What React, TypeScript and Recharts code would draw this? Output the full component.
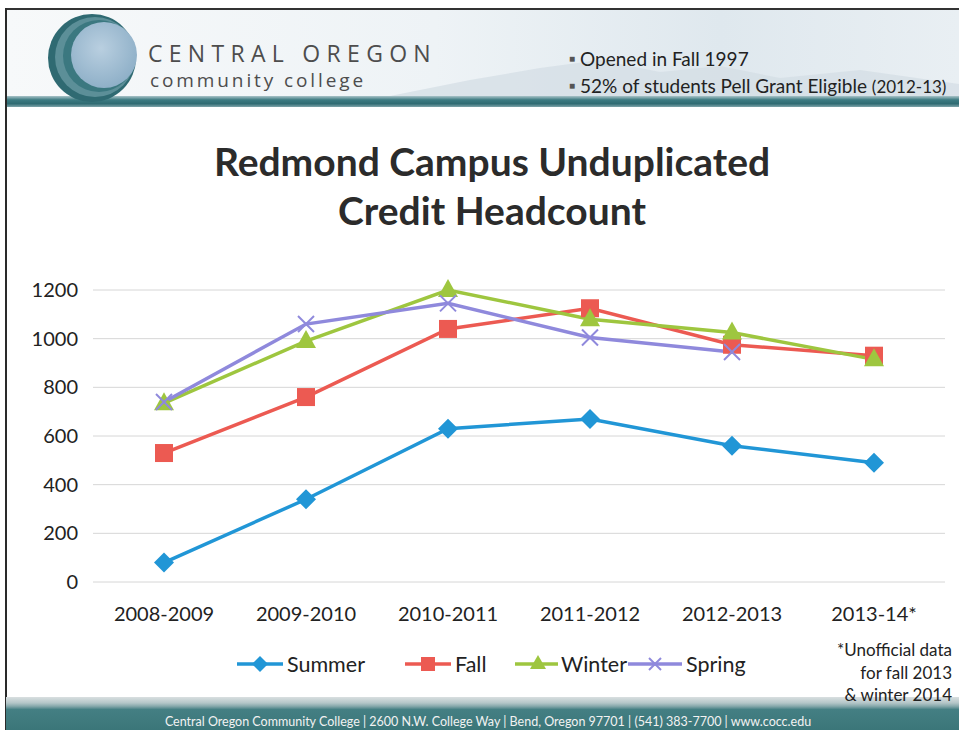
import React from 'react';
import { LineChart, Line, XAxis, YAxis, CartesianGrid } from 'recharts';

//================================================================================
// Redmond Campus headcount data
//================================================================================

const years = ['2008-2009', '2009-2010', '2010-2011', '2011-2012', '2012-2013', '2013-14*'];
const summer = [80, 340, 630, 670, 560, 490];
const fall = [530, 760, 1040, 1125, 975, 930];
const winter = [735, 990, 1200, 1080, 1025, 915];
const spring = [740, 1060, 1145, 1005, 945, null];
const yTicks = [0, 200, 400, 600, 800, 1000, 1200];

const seriesNames = ['Summer', 'Fall', 'Winter', 'Spring'];
const seriesKeys = ['summer', 'fall', 'winter', 'spring'];
const seriesColors = ['#2196d6', '#ec5a52', '#9ec63f', '#8f89dc'];
const seriesMarkers = ['diamond', 'square', 'triangle', 'cross'];

const chartData = years.map((year, i) => ({
	year,
	summer: summer[i],
	fall: fall[i],
	winter: winter[i],
	spring: spring[i],
}));

const FONT = 'Lato, "Open Sans", sans-serif';

// draws one marker shape centred on cx, cy
const marker = (type: string, cx: number, cy: number, color: string, s = 10) => {
	if (type === 'diamond') {
		return (
			<polygon
				points={`${cx},${cy - s} ${cx + s},${cy} ${cx},${cy + s} ${cx - s},${cy}`}
				fill={color}
			/>
		);
	}
	if (type === 'square') {
		return <rect x={cx - s + 1} y={cy - s + 1} width={2 * s - 2} height={2 * s - 2} fill={color} />;
	}
	if (type === 'triangle') {
		return (
			<polygon
				points={`${cx},${cy - s - 1} ${cx + s},${cy + s - 3} ${cx - s},${cy + s - 3}`}
				fill={color}
			/>
		);
	}
	const d = s - 2;
	return (
		<g stroke={color} strokeWidth={2}>
			<line x1={cx - d} y1={cy - d} x2={cx + d} y2={cy + d} />
			<line x1={cx - d} y1={cy + d} x2={cx + d} y2={cy - d} />
		</g>
	);
};

const makeDot = (type: string, color: string) => (props: any) => {
	const { cx, cy, index, value } = props;
	if (value == null || cx == null || cy == null) return <g key={`e-${index}`} />;
	return <g key={`d-${type}-${index}`}>{marker(type, cx, cy, color)}</g>;
};

const ChartLegend = () => {
	const widths = [168, 110, 113, 130];
	const iconW = [48, 48, 48, 56];
	return (
		<div style={{ position: 'absolute', left: 236, top: 651, display: 'flex' }}>
			{seriesNames.map((name, i) => (
				<div
					key={name}
					style={{
						display: 'flex',
						alignItems: 'center',
						width: widths[i],
						fontFamily: FONT,
						fontSize: 21.5,
						lineHeight: '26px',
						color: '#222',
					}}
				>
					<svg width={iconW[i]} height={24}>
						<line x1={1} y1={12} x2={iconW[i] - 1} y2={12} stroke={seriesColors[i]} strokeWidth={3.5} />
						{marker(seriesMarkers[i], iconW[i] / 2, 12, seriesColors[i], 8)}
					</svg>
					<span style={{ marginLeft: 3 }}>{name}</span>
				</div>
			))}
		</div>
	);
};

const Logo = () => (
	<svg width={110} height={100} style={{ position: 'absolute', left: 38, top: 8 }}>
		<defs>
			<radialGradient id="inner" cx="45%" cy="40%" r="60%">
				<stop offset="0%" stopColor="#b9cfe0" />
				<stop offset="100%" stopColor="#8fb0c8" />
			</radialGradient>
		</defs>
		<circle cx={54} cy={50} r={44} fill="#2f6a72" />
		<circle cx={57} cy={49} r={40} fill="#5c8f98" />
		<circle cx={61} cy={48} r={36} fill="#3b7880" />
		<circle cx={66} cy={47} r={33} fill="url(#inner)" />
	</svg>
);

export default function App() {
	return (
		<div
			style={{
				position: 'absolute',
				left: 0,
				top: 0,
				width: 959,
				height: 730,
				overflow: 'hidden',
				background: '#ffffff',
				fontFamily: FONT,
			}}
		>
			{/* header strip */}
			<div
				style={{
					position: 'absolute',
					left: 6,
					top: 8,
					width: 953,
					height: 90,
					background: 'linear-gradient(90deg, #f7f9fa 0%, #eef3f6 45%, #dfe8ee 75%, #e9eff3 100%)',
					borderTop: '2px solid #333',
				}}
			/>
			<svg width={959} height={100} style={{ position: 'absolute', left: 0, top: 0 }}>
				<polygon
					points="380,98 470,80 540,68 600,60 660,72 720,66 780,78 860,70 959,84 959,98"
					fill="#d3dde4"
					opacity={0.7}
				/>
			</svg>
			<div
				style={{
					position: 'absolute',
					left: 6,
					top: 96,
					width: 953,
					height: 11,
					background: 'linear-gradient(180deg, #a9c3c8 0%, #3d7b82 35%, #2f6b72 70%, #7ea4aa 100%)',
				}}
			/>
			<div style={{ position: 'absolute', left: 5, top: 8, width: 2, height: 722, background: '#2a2a2a' }} />
			<Logo />
			<div
				style={{
					position: 'absolute',
					left: 148,
					top: 42,
					fontFamily: '"Open Sans", sans-serif',
					fontSize: 23,
					lineHeight: '23px',
					letterSpacing: 6.3,
					color: '#4d4d4d',
					whiteSpace: 'nowrap',
				}}
			>
				CENTRAL OREGON
			</div>
			<div
				style={{
					position: 'absolute',
					left: 150,
					top: 70,
					fontFamily: '"Open Sans", sans-serif',
					fontSize: 19,
					lineHeight: '20px',
					letterSpacing: 2.9,
					color: '#4d4d4d',
					whiteSpace: 'nowrap',
				}}
			>
				community college
			</div>
			<div style={{ position: 'absolute', left: 569, top: 46, fontSize: 19, lineHeight: '24px', color: '#222', whiteSpace: 'nowrap' }}>
				<span style={{ fontSize: 10, marginRight: 5, verticalAlign: 4, color: '#555' }}>■</span>Opened in Fall 1997
			</div>
			<div style={{ position: 'absolute', left: 569, top: 73, fontSize: 19, lineHeight: '24px', color: '#222', whiteSpace: 'nowrap' }}>
				<span style={{ fontSize: 10, marginRight: 5, verticalAlign: 4, color: '#555' }}>■</span>52% of students Pell Grant Eligible{' '}
				<span style={{ fontSize: 17 }}>(2012-13)</span>
			</div>

			{/* title */}
			<div
				style={{
					position: 'absolute',
					left: 0,
					top: 137,
					width: 984,
					textAlign: 'center',
					fontSize: 39,
					fontWeight: 700,
					lineHeight: '49px',
					color: '#2b2b2b',
				}}
			>
				Redmond Campus Unduplicated
				<br />
				Credit Headcount
			</div>

			<div style={{ position: 'absolute', left: 0, top: 0 }}>
				<LineChart width={959} height={730} data={chartData} margin={{ top: 290, right: 14, bottom: 118, left: 0 }}>
					<CartesianGrid vertical={false} stroke="#d6d6d6" strokeWidth={1} />
					<XAxis
						dataKey="year"
						height={30}
						padding={{ left: 71, right: 71 }}
						axisLine={false}
						tickLine={false}
						tickSize={0}
						tickMargin={25}
						interval={0}
						tick={{ fill: '#222', fontSize: 20, fontFamily: FONT }}
					/>
					<YAxis
						width={93}
						domain={[0, 1200]}
						ticks={yTicks}
						axisLine={false}
						tickLine={false}
						tickSize={0}
						tickMargin={15}
						tick={{ fill: '#222', fontSize: 20, fontFamily: FONT }}
					/>
					{seriesKeys.map((key, i) => (
						<Line
							key={key}
							dataKey={key}
							name={seriesNames[i]}
							stroke={seriesColors[i]}
							strokeWidth={3.5}
							dot={makeDot(seriesMarkers[i], seriesColors[i])}
							activeDot={false}
							isAnimationActive={false}
						/>
					))}
				</LineChart>
			</div>
			<ChartLegend />

			{/* footer */}
			<div
				style={{
					position: 'absolute',
					left: 6,
					top: 697,
					width: 953,
					height: 33,
					background:
						'linear-gradient(180deg, #d9dfe0 0%, #b4c6c8 18%, #86a8ab 28%, #447f83 38%, #3b7679 100%)',
				}}
			/>
			<div
				style={{
					position: 'absolute',
					left: 0,
					top: 714,
					width: 976,
					textAlign: 'center',
					fontSize: 12.5,
					color: '#f2f2f2',
					whiteSpace: 'nowrap',
				}}
			>
				Central Oregon Community College | 2600 N.W. College Way | Bend, Oregon 97701 | (541) 383-7700 | www.cocc.edu
			</div>

			{/* footnote */}
			<div
				style={{
					position: 'absolute',
					right: 7,
					top: 639,
					textAlign: 'right',
					fontSize: 17,
					lineHeight: '22.5px',
					color: '#222',
				}}
			>
				*Unofficial data
				<br />
				for fall 2013
				<br />
				&amp; winter 2014
			</div>
		</div>
	);
}
